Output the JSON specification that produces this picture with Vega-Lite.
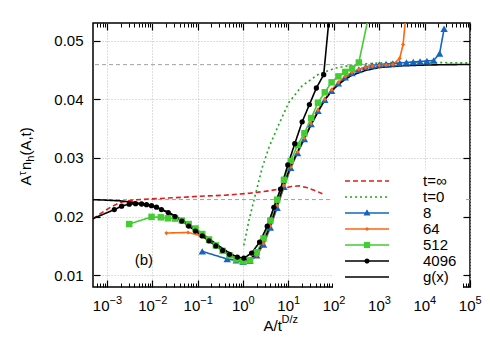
{
  "$schema": "https://vega.github.io/schema/vega-lite/v6.json",
  "width": 377,
  "height": 264,
  "autosize": {"type": "none"},
  "padding": {"left": 93, "top": 23, "right": 20, "bottom": 55},
  "config": {
    "view": {"stroke": "black", "strokeWidth": 1.5},
    "font": "Liberation Sans",
    "axis": {"labelFont": "Liberation Sans", "titleFont": "Liberation Sans", "labelColor": "black", "titleColor": "black", "tickColor": "black", "domain": false, "grid": false, "titleFontWeight": "normal", "labelFlush": false, "labelOverlap": false, "labelBound": false}
  },
  "datasets": {
    "refs": [{"v": 0.0459}, {"v": 0.0229}],
    "c": [
      {"s":"t=∞","x":0.00049,"y":0.01958},{"s":"t=∞","x":0.000702,"y":0.02046},{"s":"t=∞","x":0.00116,"y":0.02153},{"s":"t=∞","x":0.00193,"y":0.02242},{"s":"t=∞","x":0.00373,"y":0.02283},{"s":"t=∞","x":0.0088,"y":0.0230},{"s":"t=∞","x":0.0313,"y":0.02322},{"s":"t=∞","x":0.111,"y":0.02347},{"s":"t=∞","x":0.392,"y":0.02364},{"s":"t=∞","x":1.39,"y":0.02398},{"s":"t=∞","x":3.82,"y":0.02441},{"s":"t=∞","x":7.0,"y":0.02475},{"s":"t=∞","x":11.6,"y":0.02512},{"s":"t=∞","x":17.4,"y":0.02525},{"s":"t=∞","x":26.2,"y":0.02492},{"s":"t=∞","x":39.2,"y":0.02441},{"s":"t=∞","x":55.8,"y":0.0239},
      {"s":"t=0","x":1.04,"y":0.01508},{"s":"t=0","x":1.34,"y":0.01932},{"s":"t=0","x":1.88,"y":0.02385},{"s":"t=0","x":2.64,"y":0.02836},{"s":"t=0","x":3.69,"y":0.03175},{"s":"t=0","x":6.12,"y":0.03571},{"s":"t=0","x":10.1,"y":0.0394},{"s":"t=0","x":20,"y":0.0423},{"s":"t=0","x":46.4,"y":0.0443},{"s":"t=0","x":108,"y":0.04531},{"s":"t=0","x":219,"y":0.04575},{"s":"t=0","x":423,"y":0.046},{"s":"t=0","x":1000,"y":0.04618},{"s":"t=0","x":2365,"y":0.04627},{"s":"t=0","x":12600,"y":0.04627},{"s":"t=0","x":100000,"y":0.04619},
      {"s":"8","x":0.1259,"y":0.01407},{"s":"8","x":0.4467,"y":0.01277},{"s":"8","x":0.7079,"y":0.01254},{"s":"8","x":1,"y":0.01229},{"s":"8","x":1.413,"y":0.01246},{"s":"8","x":1.995,"y":0.01339},{"s":"8","x":2.818,"y":0.01525},{"s":"8","x":3.981,"y":0.01814},{"s":"8","x":5.623,"y":0.02152},{"s":"8","x":7.943,"y":0.02508},{"s":"8","x":11.22,"y":0.0283},{"s":"8","x":15.85,"y":0.03085},{"s":"8","x":22.39,"y":0.03322},{"s":"8","x":31.62,"y":0.03576},{"s":"8","x":44.67,"y":0.03805},{"s":"8","x":63.1,"y":0.03992},{"s":"8","x":89.13,"y":0.04144},{"s":"8","x":125.9,"y":0.04271},{"s":"8","x":177.8,"y":0.04373},{"s":"8","x":251.2,"y":0.04449},{"s":"8","x":354.8,"y":0.04508},{"s":"8","x":501.2,"y":0.04551},{"s":"8","x":707.9,"y":0.04576},{"s":"8","x":1000,"y":0.04593},{"s":"8","x":1413,"y":0.04602},{"s":"8","x":1995,"y":0.0461},{"s":"8","x":2818,"y":0.04619},{"s":"8","x":3981,"y":0.04627},{"s":"8","x":5623,"y":0.04636},{"s":"8","x":7943,"y":0.04644},{"s":"8","x":11220,"y":0.04653},{"s":"8","x":15850,"y":0.04661},{"s":"8","x":21380,"y":0.0478},{"s":"8","x":26900,"y":0.05203},
      {"s":"64","x":0.0204,"y":0.0172},{"s":"64","x":0.0612,"y":0.01729},{"s":"64","x":0.1107,"y":0.01678},{"s":"64","x":0.1837,"y":0.01593},{"s":"64","x":0.2512,"y":0.01517},{"s":"64","x":0.3548,"y":0.01432},{"s":"64","x":0.5012,"y":0.01356},{"s":"64","x":0.7079,"y":0.01288},{"s":"64","x":1,"y":0.01237},{"s":"64","x":1.413,"y":0.01237},{"s":"64","x":1.995,"y":0.01339},{"s":"64","x":2.818,"y":0.01542},{"s":"64","x":3.981,"y":0.01839},{"s":"64","x":5.623,"y":0.02186},{"s":"64","x":7.943,"y":0.02534},{"s":"64","x":11.22,"y":0.02847},{"s":"64","x":15.85,"y":0.03102},{"s":"64","x":22.39,"y":0.03339},{"s":"64","x":31.62,"y":0.03585},{"s":"64","x":44.67,"y":0.03814},{"s":"64","x":63.1,"y":0.04},{"s":"64","x":89.13,"y":0.04161},{"s":"64","x":125.9,"y":0.04288},{"s":"64","x":177.8,"y":0.0439},{"s":"64","x":251.2,"y":0.04458},{"s":"64","x":354.8,"y":0.04508},{"s":"64","x":501.2,"y":0.04542},{"s":"64","x":707.9,"y":0.04563},{"s":"64","x":1000,"y":0.04576},{"s":"64","x":1413,"y":0.04585},{"s":"64","x":1995,"y":0.04593},{"s":"64","x":2818,"y":0.04695},{"s":"64","x":3350,"y":0.04932},{"s":"64","x":3981,"y":0.05525},
      {"s":"512","x":0.00309,"y":0.01873},{"s":"512","x":0.0096,"y":0.01995},{"s":"512","x":0.01538,"y":0.01988},{"s":"512","x":0.02193,"y":0.01971},{"s":"512","x":0.03162,"y":0.01966},{"s":"512","x":0.04467,"y":0.01932},{"s":"512","x":0.0631,"y":0.01873},{"s":"512","x":0.08913,"y":0.01797},{"s":"512","x":0.1259,"y":0.01703},{"s":"512","x":0.1778,"y":0.0161},{"s":"512","x":0.2512,"y":0.01508},{"s":"512","x":0.3548,"y":0.01415},{"s":"512","x":0.5012,"y":0.01339},{"s":"512","x":0.7079,"y":0.01271},{"s":"512","x":1,"y":0.01237},{"s":"512","x":1.413,"y":0.01254},{"s":"512","x":1.995,"y":0.0139},{"s":"512","x":2.818,"y":0.01627},{"s":"512","x":3.981,"y":0.01932},{"s":"512","x":5.623,"y":0.02288},{"s":"512","x":7.943,"y":0.02627},{"s":"512","x":11.22,"y":0.02949},{"s":"512","x":15.85,"y":0.0322},{"s":"512","x":22.39,"y":0.0342},{"s":"512","x":31.62,"y":0.0368},{"s":"512","x":44.67,"y":0.03941},{"s":"512","x":63.1,"y":0.04119},{"s":"512","x":89.13,"y":0.04288},{"s":"512","x":125.9,"y":0.0439},{"s":"512","x":177.8,"y":0.04466},{"s":"512","x":251.2,"y":0.04525},{"s":"512","x":354.8,"y":0.04627},{"s":"512","x":707.9,"y":0.05724},
      {"s":"4096","x":0.000437,"y":0.0195},{"s":"4096","x":0.00145,"y":0.02119},{"s":"4096","x":0.0021,"y":0.02178},{"s":"4096","x":0.00309,"y":0.02212},{"s":"4096","x":0.00427,"y":0.0222},{"s":"4096","x":0.00579,"y":0.02215},{"s":"4096","x":0.00744,"y":0.02203},{"s":"4096","x":0.00959,"y":0.02186},{"s":"4096","x":0.01234,"y":0.02161},{"s":"4096","x":0.01585,"y":0.02119},{"s":"4096","x":0.02239,"y":0.02068},{"s":"4096","x":0.03162,"y":0.02},{"s":"4096","x":0.04467,"y":0.01924},{"s":"4096","x":0.0631,"y":0.01839},{"s":"4096","x":0.08913,"y":0.01754},{"s":"4096","x":0.1259,"y":0.0167},{"s":"4096","x":0.1778,"y":0.01585},{"s":"4096","x":0.2512,"y":0.015},{"s":"4096","x":0.3548,"y":0.01424},{"s":"4096","x":0.5012,"y":0.01357},{"s":"4096","x":0.746,"y":0.0131},{"s":"4096","x":1.042,"y":0.01293},{"s":"4096","x":1.538,"y":0.01378},{"s":"4096","x":2.306,"y":0.01565},{"s":"4096","x":3.404,"y":0.01836},{"s":"4096","x":4.753,"y":0.02158},{"s":"4096","x":6.67,"y":0.0247},{"s":"4096","x":9.66,"y":0.02881},{"s":"4096","x":13.75,"y":0.03242},{"s":"4096","x":20.0,"y":0.03615},{"s":"4096","x":28.9,"y":0.0391},{"s":"4096","x":41.2,"y":0.04192},{"s":"4096","x":59.7,"y":0.04419},{"s":"4096","x":86,"y":0.057},
      {"s":"g(x)","x":0.0004467,"y":0.0229},{"s":"g(x)","x":0.001,"y":0.0228},{"s":"g(x)","x":0.001995,"y":0.02268},{"s":"g(x)","x":0.003981,"y":0.02242},{"s":"g(x)","x":0.007943,"y":0.02195},{"s":"g(x)","x":0.01122,"y":0.0217},{"s":"g(x)","x":0.01585,"y":0.02125},{"s":"g(x)","x":0.02239,"y":0.02073},{"s":"g(x)","x":0.03162,"y":0.02014},{"s":"g(x)","x":0.04467,"y":0.01944},{"s":"g(x)","x":0.0631,"y":0.01866},{"s":"g(x)","x":0.08913,"y":0.01788},{"s":"g(x)","x":0.1259,"y":0.01707},{"s":"g(x)","x":0.1778,"y":0.01622},{"s":"g(x)","x":0.2512,"y":0.01536},{"s":"g(x)","x":0.3548,"y":0.01456},{"s":"g(x)","x":0.5012,"y":0.01381},{"s":"g(x)","x":0.7079,"y":0.01314},{"s":"g(x)","x":1,"y":0.01275},{"s":"g(x)","x":1.256,"y":0.01263},{"s":"g(x)","x":1.413,"y":0.0128},{"s":"g(x)","x":1.995,"y":0.01368},{"s":"g(x)","x":2.818,"y":0.01559},{"s":"g(x)","x":3.981,"y":0.01858},{"s":"g(x)","x":5.623,"y":0.022},{"s":"g(x)","x":7.943,"y":0.02551},{"s":"g(x)","x":11.22,"y":0.02861},{"s":"g(x)","x":15.85,"y":0.03105},{"s":"g(x)","x":22.39,"y":0.03336},{"s":"g(x)","x":31.62,"y":0.03568},{"s":"g(x)","x":44.67,"y":0.03783},{"s":"g(x)","x":63.1,"y":0.0399},{"s":"g(x)","x":89.13,"y":0.0414},{"s":"g(x)","x":125.9,"y":0.0425},{"s":"g(x)","x":177.8,"y":0.0434},{"s":"g(x)","x":251.2,"y":0.0441},{"s":"g(x)","x":501.2,"y":0.04492},{"s":"g(x)","x":1000,"y":0.04542},{"s":"g(x)","x":3162,"y":0.0457},{"s":"g(x)","x":10000,"y":0.04583},{"s":"g(x)","x":31620,"y":0.0459},{"s":"g(x)","x":100000,"y":0.04593}
    ]
  },
  "resolve": {"axis": {"x": "independent", "y": "independent"}},
  "layer": [
    {
      "data": {"name": "refs"},
      "mark": {"type": "rule", "color": "#a0a0a0", "strokeDash": [4, 3], "strokeWidth": 1},
      "encoding": {
        "y": {"field": "v", "type": "quantitative", "scale": {"domain": [0.008, 0.053], "nice": false, "zero": false},
          "axis": {"orient": "left", "values": [0.01, 0.02, 0.03, 0.04, 0.05], "format": ".2f", "labelFontSize": 15, "labelBaseline": "middle", "tickSize": -7, "tickWidth": 1.2, "labelPadding": 17, "grid": true, "gridColor": "#bdbdbd", "gridDash": [1, 2], "gridWidth": 1,
            "title": "A", "titleFontSize": 15, "titleAngle": -90, "titleX": -63, "titleY": 162, "titleAlign": "left", "titleBaseline": "alphabetic"}}
      }
    },
    {
      "data": {"name": "c"},
      "mark": {"type": "line", "clip": true, "strokeWidth": 1.6},
      "encoding": {
        "x": {"field": "x", "type": "quantitative", "scale": {"type": "log", "domain": [0.000492, 100000], "nice": false},
          "axis": {"orient": "bottom", "values": [0.001, 0.01, 0.1, 1, 10, 100, 1000, 10000, 100000], "labelExpr": "'10'", "labelFontSize": 15, "labelAlign": "right", "labelBaseline": "alphabetic", "labelOffset": {"condition": {"test": "datum.value < 1", "value": 2}, "value": 5}, "tickSize": -7, "tickWidth": 1.2, "labelPadding": 30, "grid": true, "gridColor": "#bdbdbd", "gridDash": [1, 2], "gridWidth": 1,
            "title": "A/t", "titleFontSize": 15, "titleX": 170, "titleY": 43, "titleAlign": "left", "titleBaseline": "alphabetic"}},
        "y": {"field": "y", "type": "quantitative", "scale": {"domain": [0.008, 0.053], "nice": false, "zero": false},
          "axis": {"orient": "right", "values": [0.01, 0.02, 0.03, 0.04, 0.05], "labels": false, "tickSize": -7, "tickWidth": 1.2, "title": null}},
        "color": {"field": "s", "type": "nominal",
          "scale": {"domain": ["t=∞", "t=0", "8", "64", "512", "4096", "g(x)"], "range": ["#e41a1c", "#1fa81f", "#1565c0", "#ff6611", "#44cc33", "#000000", "#000000"]},
          "legend": {"orient": "none", "legendX": 240, "legendY": 147.5, "title": "\u00a0\u00a0\u00a0\u00a0", "titleOrient": "right", "titleFontSize": 15, "titlePadding": 4, "fillColor": "white", "padding": 3, "symbolType": "M-4.4,0H4.4", "symbolSize": 100, "symbolStrokeWidth": 1.6, "symbolOffset": 23.5, "labelOffset": 48.5, "labelFont": "Liberation Sans", "labelFontSize": 15, "labelColor": "black", "rowPadding": -0.5}
        },
        "strokeDash": {"field": "s", "type": "nominal",
          "scale": {"domain": ["t=∞", "t=0", "8", "64", "512", "4096", "g(x)"], "range": [[5, 3], [2, 3], [1, 0], [1, 0], [1, 0], [1, 0], [1, 0]]},
          "legend": {"orient": "none", "legendX": 240, "legendY": 147.5, "title": "\u00a0\u00a0\u00a0\u00a0", "titleOrient": "right", "titleFontSize": 15, "titlePadding": 4, "fillColor": "white", "padding": 3, "symbolType": "M-4.4,0H4.4", "symbolSize": 100, "symbolStrokeWidth": 1.6, "symbolOffset": 23.5, "labelOffset": 48.5, "labelFont": "Liberation Sans", "labelFontSize": 15, "labelColor": "black", "rowPadding": -0.5}
        }
      }
    },
    {
      "data": {"name": "c"},
      "transform": [{"filter": "datum.s === 'none'"}],
      "mark": {"type": "point", "filled": true, "opacity": 1, "size": 100},
      "encoding": {
        "fill": {"field": "s", "type": "nominal",
          "scale": {"domain": ["\u00a0", "\u00a0\u00a0", "\u00a0\u00a0\u00a0", "\u00a0\u00a0\u00a0\u00a0", "\u00a0\u00a0\u00a0\u00a0\u00a0", "\u00a0\u00a0\u00a0\u00a0\u00a0\u00a0", "\u00a0\u00a0\u00a0\u00a0\u00a0\u00a0\u00a0"], "range": ["transparent", "transparent", "#1565c0", "#ff6611", "#44cc33", "#000000", "transparent"]},
          "legend": {"orient": "none", "legendX": 240, "legendY": 147.5, "title": null, "padding": 3, "symbolSize": 100, "symbolStrokeWidth": 1.6, "symbolOffset": 23.5, "labelOffset": 48.5, "labelFont": "Liberation Sans", "labelFontSize": 15, "labelOpacity": 0, "rowPadding": -0.5}},
        "shape": {"field": "s", "type": "nominal",
          "scale": {"domain": ["\u00a0", "\u00a0\u00a0", "\u00a0\u00a0\u00a0", "\u00a0\u00a0\u00a0\u00a0", "\u00a0\u00a0\u00a0\u00a0\u00a0", "\u00a0\u00a0\u00a0\u00a0\u00a0\u00a0", "\u00a0\u00a0\u00a0\u00a0\u00a0\u00a0\u00a0"], "range": ["M0,0", "M0,0", "M-0.7,0.5L0,-0.75L0.7,0.5Z", "M0,-0.42L0.42,0L0,0.42L-0.42,0Z", "M-0.62,-0.62H0.62V0.62H-0.62Z", "M-0.52,0A0.52,0.52,0,1,0,0.52,0A0.52,0.52,0,1,0,-0.52,0Z", "M0,0"]},
          "legend": {"orient": "none", "legendX": 240, "legendY": 147.5, "title": null, "padding": 3, "symbolSize": 100, "symbolStrokeWidth": 1.6, "symbolOffset": 23.5, "labelOffset": 48.5, "labelFont": "Liberation Sans", "labelFontSize": 15, "labelOpacity": 0, "rowPadding": -0.5}}
      }
    },
    {
      "data": {"values": [{"label": "(b)", "x": 0.0065, "y": 0.01254}]},
      "mark": {"type": "text", "font": "Liberation Sans", "fontSize": 15, "align": "center", "baseline": "middle", "color": "black"},
      "encoding": {
        "x": {"field": "x", "type": "quantitative", "scale": {"type": "log", "domain": [0.000492, 100000], "nice": false}, "axis": null},
        "y": {"field": "y", "type": "quantitative", "scale": {"domain": [0.008, 0.053], "nice": false, "zero": false}, "axis": null},
        "text": {"field": "label"}
      }
    },
    {
      "data": {"name": "c"},
      "transform": [{"filter": "datum.s === '8'"}],
      "mark": {"type": "point", "shape": "triangle-up", "filled": true, "color": "#1565c0", "size": 55, "opacity": 1, "clip": true},
      "encoding": {
        "x": {"field": "x", "type": "quantitative", "scale": {"type": "log", "domain": [0.000492, 100000], "nice": false},
          "axis": {"orient": "bottom", "values": [0.001, 0.01, 0.1, 1, 10, 100, 1000, 10000, 100000], "labelExpr": "format(round(log(datum.value)/LN10), 'd')", "labelFontSize": 11, "labelAlign": "left", "labelBaseline": "alphabetic", "labelOffset": {"condition": {"test": "datum.value < 1", "value": 2}, "value": 5}, "ticks": false, "tickSize": 0, "labelPadding": 16,
            "title": "D/z", "titleFontSize": 11, "titleX": 188, "titleY": 35, "titleAlign": "left", "titleBaseline": "alphabetic"}},
        "y": {"field": "y", "type": "quantitative", "scale": {"domain": [0.008, 0.053], "nice": false, "zero": false},
          "axis": {"orient": "left", "labels": false, "ticks": false, "title": "τ", "titleFontSize": 11, "titleAngle": -90, "titleX": -68, "titleY": 152, "titleAlign": "left", "titleBaseline": "alphabetic"}}
      }
    },
    {
      "data": {"name": "c"},
      "transform": [{"filter": "datum.s === '64'"}],
      "mark": {"type": "point", "shape": "diamond", "filled": true, "color": "#ff6611", "size": 18, "opacity": 1, "clip": true},
      "encoding": {
        "x": {"field": "x", "type": "quantitative", "scale": {"type": "log", "domain": [0.000492, 100000], "nice": false},
          "axis": {"orient": "bottom", "values": [0.0006,0.0007,0.0008,0.0009,0.002,0.003,0.004,0.005,0.006,0.007,0.008,0.009,0.02,0.03,0.04,0.05,0.06,0.07,0.08,0.09,0.2,0.3,0.4,0.5,0.6,0.7,0.8,0.9,2,3,4,5,6,7,8,9,20,30,40,50,60,70,80,90,200,300,400,500,600,700,800,900,2000,3000,4000,5000,6000,7000,8000,9000,20000,30000,40000,50000,60000,70000,80000,90000], "labels": false, "tickSize": -4, "tickWidth": 1, "title": null}},
        "y": {"field": "y", "type": "quantitative", "scale": {"domain": [0.008, 0.053], "nice": false, "zero": false},
          "axis": {"orient": "left", "labels": false, "ticks": false, "title": "n", "titleFontSize": 15, "titleAngle": -90, "titleX": -63, "titleY": 146.5, "titleAlign": "left", "titleBaseline": "alphabetic"}}
      }
    },
    {
      "data": {"name": "c"},
      "transform": [{"filter": "datum.s === '512'"}],
      "mark": {"type": "point", "shape": "square", "filled": true, "color": "#44cc33", "size": 42, "opacity": 1, "clip": true},
      "encoding": {
        "x": {"field": "x", "type": "quantitative", "scale": {"type": "log", "domain": [0.000492, 100000], "nice": false},
          "axis": {"orient": "top", "values": [0.001, 0.01, 0.1, 1, 10, 100, 1000, 10000, 100000], "labels": false, "tickSize": -7, "tickWidth": 1.2, "title": null}},
        "y": {"field": "y", "type": "quantitative", "scale": {"domain": [0.008, 0.053], "nice": false, "zero": false},
          "axis": {"orient": "left", "labels": false, "ticks": false, "title": "h", "titleFontSize": 11, "titleAngle": -90, "titleX": -60, "titleY": 138.2, "titleAlign": "left", "titleBaseline": "alphabetic"}}
      }
    },
    {
      "data": {"name": "c"},
      "transform": [{"filter": "datum.s === '4096'"}],
      "mark": {"type": "point", "shape": "circle", "filled": true, "color": "#000000", "size": 28, "opacity": 1, "clip": true},
      "encoding": {
        "x": {"field": "x", "type": "quantitative", "scale": {"type": "log", "domain": [0.000492, 100000], "nice": false},
          "axis": {"orient": "top", "values": [0.0006,0.0007,0.0008,0.0009,0.002,0.003,0.004,0.005,0.006,0.007,0.008,0.009,0.02,0.03,0.04,0.05,0.06,0.07,0.08,0.09,0.2,0.3,0.4,0.5,0.6,0.7,0.8,0.9,2,3,4,5,6,7,8,9,20,30,40,50,60,70,80,90,200,300,400,500,600,700,800,900,2000,3000,4000,5000,6000,7000,8000,9000,20000,30000,40000,50000,60000,70000,80000,90000], "labels": false, "tickSize": -4, "tickWidth": 1, "title": null}},
        "y": {"field": "y", "type": "quantitative", "scale": {"domain": [0.008, 0.053], "nice": false, "zero": false},
          "axis": {"orient": "left", "labels": false, "ticks": false, "title": "(A,t)", "titleFontSize": 15, "titleAngle": -90, "titleX": -63, "titleY": 132.1, "titleAlign": "left", "titleBaseline": "alphabetic"}}
      }
    }
  ]
}
